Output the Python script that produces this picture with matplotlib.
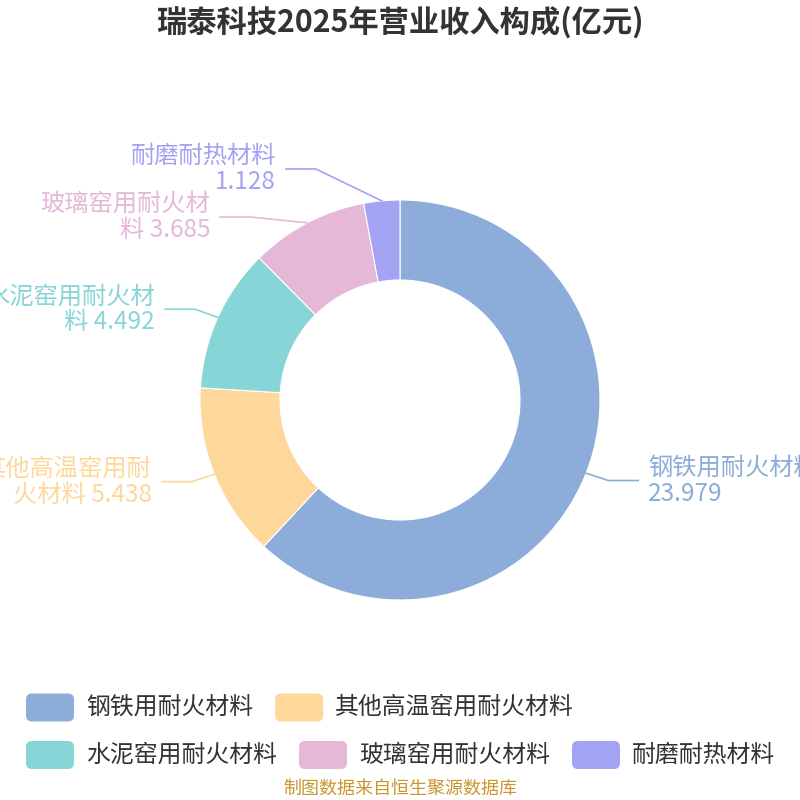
import numpy as np
import matplotlib
matplotlib.use('Agg')
from matplotlib import pyplot as plt
from matplotlib.patches import FancyBboxPatch

plt.rcParams['font.family'] = ['Noto Sans CJK SC', 'DejaVu Sans']

# data
title = '瑞泰科技2025年营业收入构成(亿元)'
names = ['钢铁用耐火材料', '其他高温窑用耐火材料', '水泥窑用耐火材料', '玻璃窑用耐火材料', '耐磨耐热材料']
values = [23.979, 5.438, 4.492, 3.685, 1.128]
label_texts = ['钢铁用耐火材料\n23.979', '其他高温窑用耐\n火材料 5.438', '水泥窑用耐火材\n料 4.492',
               '玻璃窑用耐火材\n料 3.685', '耐磨耐热材料\n1.128']
colors = ['#8eacda', '#fed89b', '#88d5d8', '#e5b8d8', '#a3a3f4']
source = '制图数据来自恒生聚源数据库'

# layout (pixels, figure is 800x800)
W = H = 800
cx, cy = 400, 400
R = 200
ring = 80
rA, rB = 220, 250  # ellipse the label elbows sit on
len2 = 30
gap_txt = 10
min_gap = 48

fig = plt.figure(figsize=(8, 8), dpi=100)
ax = fig.add_axes([0, 0, 1, 1])
ax.pie(values, colors=colors, startangle=90, counterclock=False, radius=R, center=(cx, cy),
       wedgeprops=dict(width=ring, edgecolor='white', linewidth=0.8))
ax.set_xlim(0, W)
ax.set_ylim(0, H)
ax.axis('off')

# label positions
total = sum(values)
cum = np.cumsum([0] + values[:-1])
mids = np.radians(90 - 360 * (cum + np.array(values) / 2) / total)
px = cx + R * np.cos(mids)
py = cy + R * np.sin(mids)
ly = cy + rA * np.sin(mids)
side = np.where(np.cos(mids) >= 0, 1, -1)

# spread labels that overlap on the same side
for s in (1, -1):
    idx = [i for i in range(len(values)) if side[i] == s]
    for _ in range(20):
        idx.sort(key=lambda i: -ly[i])
        moved = False
        for a, b in zip(idx[:-1], idx[1:]):
            d = ly[a] - ly[b]
            if d < min_gap:
                shift = (min_gap - d) / 2
                ly[a] += shift
                ly[b] -= shift
                moved = True
        if not moved:
            break

for i in range(len(values)):
    dy = ly[i] - cy
    ex = cx + side[i] * rA * np.sqrt(max(1 - dy ** 2 / rB ** 2, 0))
    ex2 = ex + side[i] * len2
    ax.plot([px[i], ex, ex2], [py[i], ly[i], ly[i]], color=colors[i], lw=1.2, clip_on=False)
    ha = 'left' if side[i] > 0 else 'right'
    ax.text(ex2 + side[i] * gap_txt, ly[i], label_texts[i], color=colors[i], fontsize=17.5,
            ha=ha, va='center', multialignment=ha, linespacing=1.0)

# title
fig.text(0.5, 1 - 22 / H, title, ha='center', va='center', fontsize=21.8, fontweight='bold', color='#333333')

# legend, flow layout
rend = fig.canvas.get_renderer()
x0, x = 26, 26
row_y = [707.5, 755]
row = 0
bw, bh = 48, 28
for i, name in enumerate(names):
    t = fig.text(0, 0, name, fontsize=17.2, color='#333333', va='center')
    tw = t.get_window_extent(rend).width
    item_w = bw + 12 + tw
    if x + item_w > W - 10 and x > x0:
        row += 1
        x = x0
    yc = H - row_y[row]
    ax.add_patch(FancyBboxPatch((x, yc - bh / 2), bw, bh, boxstyle='round,pad=0,rounding_size=6',
                                facecolor=colors[i], edgecolor='none', clip_on=False))
    t.set_position(((x + bw + 12) / W, yc / H))
    x += item_w + 22

fig.text(0.5, 1 - 789 / H, source, ha='center', va='center', fontsize=13, color='#c9962c')

fig.savefig('out.png', dpi=100)
